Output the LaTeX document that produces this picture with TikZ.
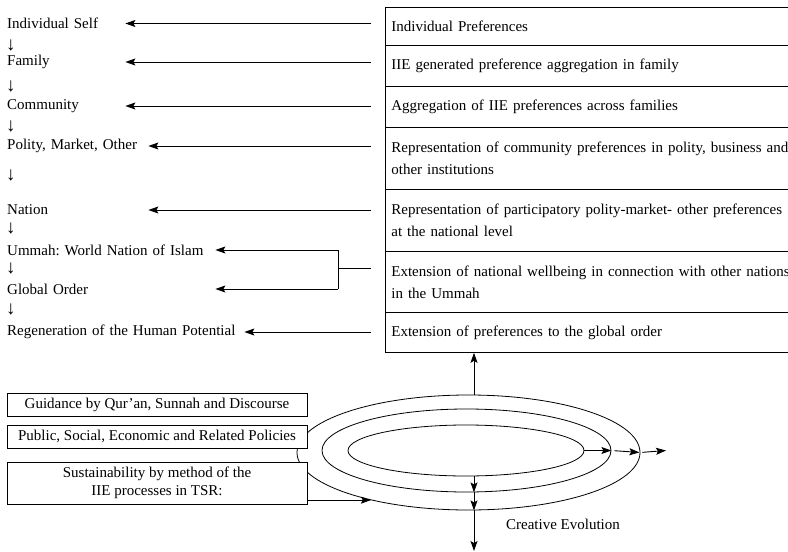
\documentclass[tikz,border=0pt]{standalone}
\usepackage{fontspec}
\setmainfont{Liberation Serif}
\usetikzlibrary{arrows.meta,shapes.geometric,calc}
\begin{document}
\frenchspacing
\begin{tikzpicture}[x=1pt,y=-1pt,
  font=\fontsize{15}{22}\selectfont\frenchspacing,
  arr/.style={-{Stealth[length=10pt,width=7pt,inset=2pt]}, line width=0.9pt},
  ln/.style={line width=0.9pt},
  lt/.style={anchor=west, inner xsep=0pt, inner ysep=1pt, align=left},
  cell/.style={draw, line width=0.8pt, anchor=north west, inner xsep=6pt, inner ysep=0pt, text width=430pt, align=left},
  dn/.style={anchor=west, inner sep=0pt, font=\fontsize{19}{19}\selectfont},
  bx/.style={draw, fill=white, line width=0.8pt, minimum width=300pt, inner sep=0pt, align=center},
  ell/.style={draw, ellipse, inner sep=0pt, line width=0.8pt}
]
\useasboundingbox (0,0) rectangle (788,552);
\clip (0,0) rectangle (788,552);

% right table
\node[cell, minimum height=38pt] (r1) at (385,7) {Individual Preferences};
\node[cell, minimum height=41pt] (r2) at (385,45) {IIE generated preference aggregation in family};
\node[cell, minimum height=41pt] (r3) at (385,86) {Aggregation of IIE preferences across families};
\node[cell, minimum height=62pt] (r4) at (385,127) {Representation of community preferences in polity, business and\\other institutions};
\node[cell, minimum height=62pt] (r5) at (385,189) {Representation of participatory polity-market- other preferences\\at the national level};
\node[cell, minimum height=61pt] (r6) at (385,251) {Extension of national wellbeing in connection with other nations\\in the Ummah};
\node[cell, minimum height=40pt] (r7) at (385,312) {Extension of preferences to the global order};

% left column
\node[lt, text width=118pt] (l1) at (7,23.5) {Individual Self};
\node[lt, text width=118pt] (l2) at (7,62) {Family};
\node[lt, text width=118pt] (l3) at (7,106) {Community};
\node[lt, text width=141pt] (l4) at (7,146) {Polity, Market, Other};
\node[lt, text width=141pt] (l5) at (7,210) {Nation};
\node[lt, text width=208pt] (l6) at (7,250) {Ummah: World Nation of Islam};
\node[lt, text width=208pt] (l7) at (7,289) {Global Order};
\node[lt, text width=237pt] (l8) at (7,332) {Regeneration of the Human Potential};

\node[dn] (d1) at (6,45) {↓};
\node[dn] (d2) at (6,86) {↓};
\node[dn] (d3) at (6,126) {↓};
\node[dn] (d4) at (6,175) {↓};
\node[dn] (d5) at (6,228) {↓};
\node[dn] (d6) at (6,268) {↓};
\node[dn] (d7) at (6,309) {↓};

\foreach \r/\l in {r1/l1,r2/l2,r3/l3,r4/l4,r5/l5,r7/l8}
  \draw[arr, shorten <=14pt] (\r.west |- \l.east) -- (\l.east);

\coordinate (bk) at (338,268);
\draw[ln, shorten <=14pt] (r6.west |- bk) -- (bk);
\draw[ln] (bk |- l6.east) -- (bk |- l7.east);
\draw[arr] (bk |- l6.east) -- (l6.east);
\draw[arr] (bk |- l7.east) -- (l7.east);

% ellipses
\node[ell, minimum width=343pt, minimum height=115pt] (e1) at (468.5,452.5) {};
\node[ell, minimum width=289pt, minimum height=83pt] (e2) at (466.5,450.5) {};
\node[ell, minimum width=236pt, minimum height=51pt] (e3) at (466,450.5) {};

% left boxes
\node[bx, minimum height=23pt] (b1) at (157,404.5) {Guidance by Qur’an, Sunnah and Discourse};
\node[bx, minimum height=23pt] (b2) at (157,436.5) {Public, Social, Economic and Related Policies};
\node[bx, minimum height=42pt, font=\fontsize{15}{18}\selectfont] (b3) at (157,483) {Sustainability by method of the\\IIE processes in TSR:};

\draw[arr] (b3.east |- e1.206) -- (e1.206);

\coordinate (ax) at (474,0);
\coordinate (bot) at (474,551);
\coordinate (rt) at (666,450.5);
\draw[arr] (e1.north -| ax) -- (r7.south -| ax);
\draw[arr] (e3.south -| ax) -- (e2.south -| ax);
\draw[arr] (e2.south -| ax) -- (e1.south -| ax);
\draw[arr] (e1.south -| ax) -- (bot);
\draw[arr] (e3.east) -- (e2.east);
\draw[arr, shorten <=3pt, shorten >=1pt] (e2.east) -- (e1.east);
\draw[arr, shorten <=2pt] (e1.east) -- (rt);

\node (ce) at (563,524) {Creative Evolution};
\end{tikzpicture}
\end{document}
